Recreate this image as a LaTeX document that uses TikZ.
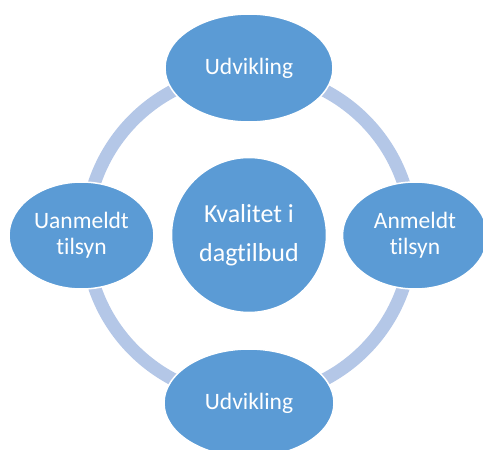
\documentclass[tikz,border=0pt]{standalone}
\usepackage{fontspec}
\setmainfont{Carlito}[RawFeature={-liga;-calt;-clig}]
\usetikzlibrary{shapes.geometric}
\definecolor{nodeblue}{HTML}{5B9BD5}
\definecolor{ringblue}{HTML}{B4C7E7}
\tikzset{
  bubble/.style={ellipse, fill=nodeblue, draw=white, line width=1.5pt, inner sep=0pt,
    text=white, align=center, font=\fontsize{23.5}{26}\selectfont},
  hub/.style={circle, fill=nodeblue, draw=white, line width=1.5pt, inner sep=0pt,
    text=white, align=center, minimum size=155pt, font=\fontsize{26}{39}\selectfont},
  ring/.style={draw=ringblue, line width=13pt}
}
\begin{document}
\begin{tikzpicture}[x=1pt, y=-1pt]
\useasboundingbox (0,0) rectangle (483,450);
\clip (0,0) rectangle (483,450);
\coordinate (c) at (249,235);
\draw[ring] (c) circle[radius=163];
\node[hub] (center) at (249,235) {Kvalitet i\\dagtilbud};
\node[bubble, minimum width=168pt, minimum height=108pt] (top) at (249,68) {Udvikling};
\node[bubble, minimum width=170pt, minimum height=108pt] (bottom) at (249,403) {Udvikling};
\node[bubble, minimum width=145pt, minimum height=107pt] (left) at (81.5,235.5) {Uanmeldt\\tilsyn};
\node[bubble, minimum width=145pt, minimum height=107pt] (right) at (415,235.5) {Anmeldt\\tilsyn};
\end{tikzpicture}
\end{document}
